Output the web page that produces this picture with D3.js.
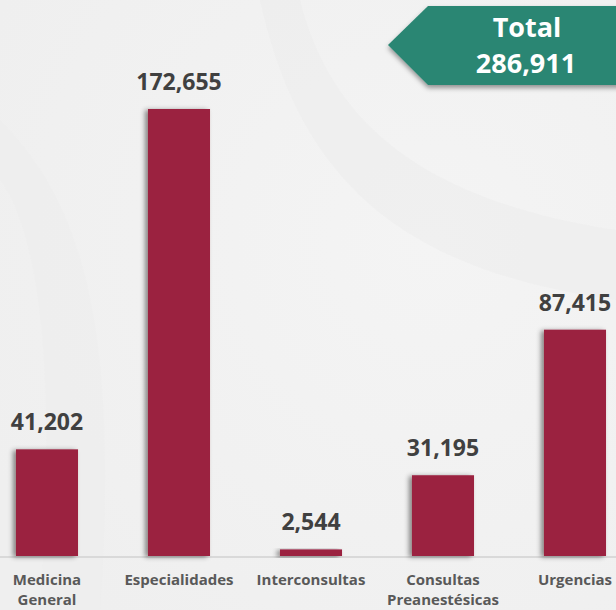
<!DOCTYPE html>
<head>
  <meta charset="utf-8">
  <title>Consultas</title>
<style>
html, body{
  width: 100%;
  height: 100%;
  margin: 0;
  padding: 0;
}
body{
  font-family: 'Open Sans', 'Noto Sans', sans-serif;
  background: #f1f1f1;
}
.value {
  font-weight: 700;
  font-size: 23px;
  fill: #404040;
  text-anchor: middle;
}
.cat {
  font-weight: 700;
  font-size: 15px;
  fill: #595959;
  text-anchor: middle;
}
.total {
  font-weight: 700;
  fill: #fff;
  text-anchor: middle;
}
</style>
</head>
<body>
<svg width="616" height="610"></svg>
<script src="https://d3js.org/d3.v7.min.js"></script>
<script>
var categories = [["Medicina", "General"], ["Especialidades"], ["Interconsultas"], ["Consultas", "Preanestésicas"], ["Urgencias"]];
var values = [41202, 172655, 2544, 31195, 87415];
var totalLabel = ["Total", "286,911"];

var svg = d3.select("svg"),
    width = +svg.attr("width"),
    height = +svg.attr("height");

var defs = svg.append("defs");
var bg = defs.append("radialGradient").attr("id", "bg").attr("cx", "0.7").attr("cy", "0.4").attr("r", "0.8");
bg.append("stop").attr("offset", "0").attr("stop-color", "#f4f4f4");
bg.append("stop").attr("offset", "1").attr("stop-color", "#efefef");

defs.append("filter").attr("id", "shadow").attr("x", "-30%").attr("y", "-10%").attr("width", "160%").attr("height", "130%")
  .append("feDropShadow").attr("dx", -3).attr("dy", 1).attr("stdDeviation", 2.5)
  .attr("flood-color", "#000").attr("flood-opacity", 0.45);
defs.append("filter").attr("id", "bshadow").attr("x", "-10%").attr("y", "-20%").attr("width", "130%").attr("height", "160%")
  .append("feDropShadow").attr("dx", 0).attr("dy", 3).attr("stdDeviation", 2.5)
  .attr("flood-color", "#000").attr("flood-opacity", 0.4);

svg.append("rect").attr("width", width).attr("height", height).attr("fill", "url(#bg)");

// faint watermark shapes
svg.append("path")
  .attr("d", "M300,0 C330,120 420,200 616,230 L616,300 C400,270 300,180 260,0 Z")
  .attr("fill", "#e9e9e9").attr("opacity", 0.3);
svg.append("path")
  .attr("d", "M0,120 C80,200 120,320 100,610 L40,610 C60,330 30,220 0,180 Z")
  .attr("fill", "#ebebeb").attr("opacity", 0.3);

var x = d3.scaleBand()
    .domain(d3.range(values.length))
    .range([-19, 641])
    .paddingInner(0.53)
    .paddingOuter(0.265);

var y = d3.scaleLinear()
    .domain([0, d3.max(values)])
    .range([556, 109]);

// baseline
svg.append("line")
  .attr("x1", 0).attr("x2", width)
  .attr("y1", y(0) + 1).attr("y2", y(0) + 1)
  .attr("stroke", "#d9d9d9").attr("stroke-width", 2);

svg.selectAll(".bar").data(values)
  .enter().append("rect")
    .attr("class", "bar")
    .attr("x", function(d, i) { return x(i); })
    .attr("y", function(d) { return y(d); })
    .attr("width", x.bandwidth())
    .attr("height", function(d) { return y(0) - y(d); })
    .attr("fill", "#9b2141")
    .attr("filter", "url(#shadow)");

svg.selectAll(".value").data(values)
  .enter().append("text")
    .attr("class", "value")
    .attr("x", function(d, i) { return x(i) + x.bandwidth() / 2; })
    .attr("y", function(d) { return y(d) - 19; })
    .text(function(d) { return d3.format(",")(d); });

// category labels, one text per line
categories.forEach(function(lines, i) {
  lines.forEach(function(t, j) {
    svg.append("text")
      .attr("class", "cat")
      .attr("x", x(i) + x.bandwidth() / 2)
      .attr("y", 585 + j * 20)
      .text(t);
  });
});

// total banner
var banner = svg.append("g").attr("filter", "url(#bshadow)");
banner.append("path")
  .attr("d", "M388,45 L428,6 L630,6 L630,85 L428,85 Z")
  .attr("fill", "#2a8673");
svg.append("text").attr("class", "total")
  .attr("x", 527).attr("y", 37).style("font-size", "27px")
  .text(totalLabel[0]);
svg.append("text").attr("class", "total")
  .attr("x", 526).attr("y", 73).style("font-size", "27px")
  .text(totalLabel[1]);
</script>
</body>
